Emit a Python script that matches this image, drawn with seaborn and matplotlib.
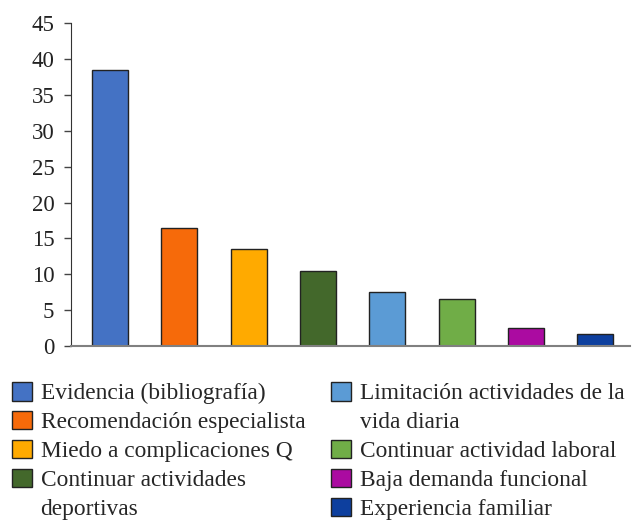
import matplotlib
matplotlib.use("Agg")
import matplotlib.pyplot as plt
import matplotlib.patches as mpatches
import pandas as pd
import seaborn as sns

# motivos y porcentajes
CATEGORIES = [
    "Evidencia (bibliografía)",
    "Recomendación especialista",
    "Miedo a complicaciones Q",
    "Continuar actividades deportivas",
    "Limitación actividades de la vida diaria",
    "Continuar actividad laboral",
    "Baja demanda funcional",
    "Experiencia familiar",
]
VALUES = [38.5, 16.5, 13.5, 10.5, 7.5, 6.6, 2.5, 1.7]
COLORS = ["#4472C4", "#F66A0A", "#FFAA00", "#43682B",
          "#5B9BD5", "#70AD47", "#AB0BA1", "#0D3F9E"]
Y_TICKS = [0, 5, 10, 15, 20, 25, 30, 35, 40, 45]

# etiquetas de leyenda con salto de linea (fila extra sin marca)
LEGEND_ROWS = [
    ("Evidencia (bibliografía)", 0),
    ("Recomendación especialista", 1),
    ("Miedo a complicaciones Q", 2),
    ("Continuar actividades", 3),
    ("deportivas", None),
    ("Limitación actividades de la", 4),
    ("vida diaria", None),
    ("Continuar actividad laboral", 5),
    ("Baja demanda funcional", 6),
    ("Experiencia familiar", 7),
]

sns.set_style("white")
plt.rcParams["font.family"] = "serif"
plt.rcParams["font.serif"] = ["Liberation Serif", "DejaVu Serif"]

df = pd.DataFrame({"motivo": CATEGORIES, "pct": VALUES})

fig = plt.figure(figsize=(6.37, 5.23), dpi=100)
ax = fig.add_axes([0.1115, 0.338, 0.8775, 0.618])

sns.barplot(data=df, x="motivo", y="pct", hue="motivo", order=CATEGORIES,
            hue_order=CATEGORIES, palette=COLORS, legend=False, width=0.52,
            edgecolor="#222222", linewidth=1.0, saturation=1, ax=ax)

ax.set_ylim(0, 45)
ax.set_xlim(-0.56, 7.5)
ax.set_yticks(Y_TICKS)
ax.set_yticklabels([str(t) for t in Y_TICKS], fontsize=16.5, color="#222222")
ax.set_xticks([])
ax.set_xlabel("")
ax.set_ylabel("")
ax.tick_params(axis="y", direction="out", length=5, width=1,
               color="#444444", pad=7, left=True)
sns.despine(ax=ax)
ax.spines["left"].set_color("#333333")
ax.spines["bottom"].set_color("#808080")
ax.spines["bottom"].set_linewidth(1.5)

handles, labels = [], []
for text, idx in LEGEND_ROWS:
    if idx is None:
        h = mpatches.Patch(facecolor="none", edgecolor="none")
    else:
        h = mpatches.Patch(facecolor=COLORS[idx], edgecolor="#222222",
                           linewidth=1.0)
    handles.append(h)
    labels.append(text)

fig.legend(handles, labels, ncol=2, loc="upper left",
           bbox_to_anchor=(-0.007, 0.301), frameon=False, fontsize=16.8,
           handlelength=0.85, handleheight=0.85, handletextpad=0.38,
           labelspacing=0.28, columnspacing=1.1, borderpad=0.2)

plt.savefig("out.png", dpi=100)
plt.close()
